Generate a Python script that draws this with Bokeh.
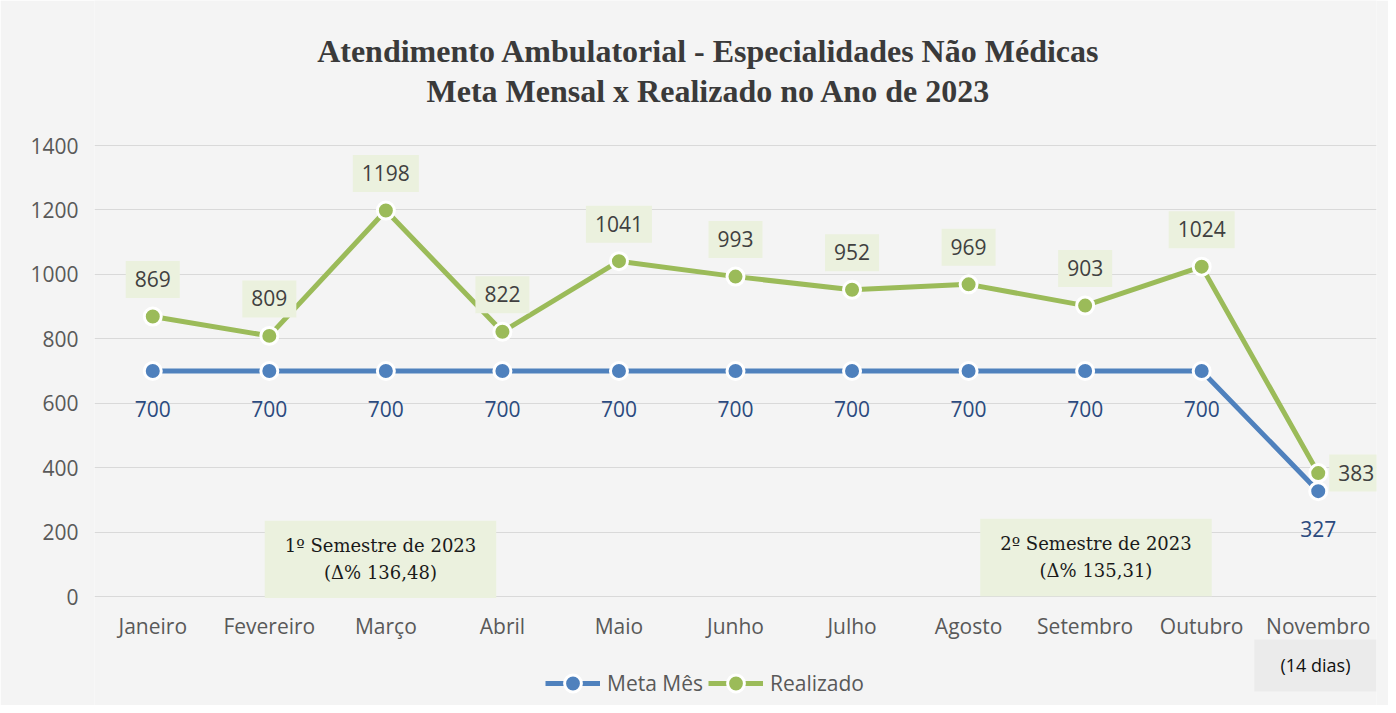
from bokeh.plotting import figure
from bokeh.models import (ColumnDataSource, Range1d, FactorRange, LabelSet, Label,
                          Legend, LegendItem)
from bokeh.core.properties import value
from bokeh.embed import file_html
from bokeh.resources import INLINE

months = ["Janeiro", "Fevereiro", "Março", "Abril", "Maio", "Junho", "Julho",
          "Agosto", "Setembro", "Outubro", "Novembro"]
meta = [700, 700, 700, 700, 700, 700, 700, 700, 700, 700, 327]
realizado = [869, 809, 1198, 822, 1041, 993, 952, 969, 903, 1024, 383]
y_ticks = [0, 200, 400, 600, 800, 1000, 1200, 1400]
title_lines = ["Atendimento Ambulatorial - Especialidades Não Médicas",
               "Meta Mensal x Realizado no Ano de 2023"]
sem_notes = ["1º Semestre de 2023\n(Δ% 136,48)", "2º Semestre de 2023\n(Δ% 135,31)"]
nov_note = "(14 dias)"

BLUE = "#4f81bd"
GREEN = "#9bbb59"
BG = "#f4f4f4"
FONT = "Open Sans"

W, H = 1388, 705
FRAME_TOP, FRAME_BOTTOM = 145, 596          # pixel rows of 1400 and 0
Y_MAX = y_ticks[-1]
k = (FRAME_BOTTOM - FRAME_TOP) / Y_MAX       # px per unit
# the frame spans the full height so that the title, legend and notes are inside it
y_range = Range1d(-(H - FRAME_BOTTOM) / k, Y_MAX + FRAME_TOP / k)

n = len(months)
src = ColumnDataSource(dict(
    m=months, meta=meta, real=realizado,
    meta_txt=[str(v) for v in meta],
))

p = figure(width=W, height=H, x_range=FactorRange(factors=months),
           y_range=y_range, output_backend="svg", toolbar_location=None,
           min_border_left=94, min_border_right=12, min_border_top=0,
           min_border_bottom=0)
p.background_fill_color = BG
p.border_fill_color = BG
p.outline_line_color = None

p.xgrid.grid_line_color = None
p.ygrid.grid_line_color = "#d9d9d9"
p.ygrid.grid_line_width = 1
p.yaxis.ticker = y_ticks
p.xaxis.fixed_location = 0
for ax in (p.xaxis, p.yaxis):
    ax.axis_line_color = None
    ax.major_tick_line_color = None
    ax.minor_tick_line_color = None
    ax.major_tick_out = 0
    ax.minor_tick_out = 0
    ax.major_label_text_font = FONT
    ax.major_label_text_font_size = "21px"
    ax.major_label_text_color = "#595959"
p.xaxis.major_label_standoff = 15
p.yaxis.major_label_standoff = 16

l1 = p.line("m", "meta", source=src, line_color=BLUE, line_width=5)
s1 = p.scatter("m", "meta", source=src, size=17, fill_color=BLUE,
               line_color="white", line_width=3)
l2 = p.line("m", "real", source=src, line_color=GREEN, line_width=5)
s2 = p.scatter("m", "real", source=src, size=17, fill_color=GREEN,
               line_color="white", line_width=3)

p.add_layout(LabelSet(x="m", y="meta", text="meta_txt", source=src,
                      y_offset=-38, text_align="center", text_baseline="middle",
                      text_font=value(FONT), text_font_size="21px",
                      text_color="#2b4a7e"))

# padding tuples are (left, right, top, bottom)
for i, v in enumerate(realizado):
    last = i == n - 1
    p.add_layout(Label(x=i + 0.5, y=v, text=str(v),
                       x_offset=38 if last else 0, y_offset=0 if last else 37,
                       text_align="center", text_baseline="middle",
                       text_font=FONT, text_font_size="21px", text_color="#404040",
                       background_fill_color="#ebf1de", padding=(9, 9, 10, 11)))

# title
for txt, yv in zip(title_lines, [Y_MAX + 95 / k, Y_MAX + 55 / k]):
    p.add_layout(Label(x=5.27, y=yv, text=txt, text_align="center",
                       text_baseline="middle", text_font="Liberation Serif",
                       text_font_style="bold", text_font_size="32px",
                       text_color="#3a3a3a"))

# semester notes
for txt, xv, yv in zip(sem_notes, [2.454, 8.593], [115, 121]):
    p.add_layout(Label(x=xv, y=yv, text=txt, text_align="center",
                       text_baseline="middle", text_font="DejaVu Serif",
                       text_font_size="18px", text_color="#1a1a1a",
                       text_line_height=1.3,
                       background_fill_color="#ebf1de", padding=(20, 20, 14, 15)))

p.add_layout(Label(x=10.476, y=-214, text=nov_note, text_align="center",
                   text_baseline="middle", text_font=FONT, text_font_size="18px",
                   text_color="#111111", background_fill_color="#ebebeb",
                   padding=(26, 26, 14, 14)))

legend = Legend(items=[LegendItem(label="Meta Mês", renderers=[l1, s1]),
                       LegendItem(label="Realizado", renderers=[l2, s2])],
                location=(451, 1), orientation="horizontal",
                glyph_width=55, glyph_height=42, label_standoff=7, spacing=5,
                padding=0, margin=0, background_fill_alpha=0, border_line_color=None,
                label_text_font=FONT, label_text_font_size="21px",
                label_text_color="#595959")
p.add_layout(legend, "center")

open("out.html", "w").write(file_html(p, INLINE))
